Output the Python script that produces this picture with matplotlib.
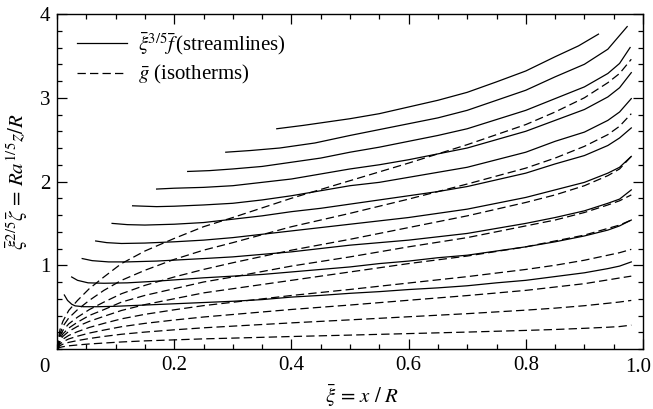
import matplotlib
matplotlib.use("Agg")
import matplotlib.pyplot as plt
from matplotlib.ticker import MultipleLocator

plt.rcParams['font.family'] = 'Liberation Serif'
plt.rcParams['mathtext.fontset'] = 'stix'
plt.rcParams['lines.scale_dashes'] = False

# STREAMLINES (solid)
s1_x = [0.375, 0.42, 0.46, 0.50, 0.55, 0.60, 0.65, 0.70, 0.75, 0.80, 0.85, 0.89, 0.924]
s1_y = [2.63, 2.67, 2.71, 2.75, 2.81, 2.89, 2.97, 3.065, 3.19, 3.32, 3.49, 3.62, 3.76]
s2_x = [0.288, 0.33, 0.38, 0.44, 0.50, 0.55, 0.60, 0.65, 0.70, 0.75, 0.80, 0.85, 0.90, 0.94, 0.973]
s2_y = [2.35, 2.37, 2.40, 2.46, 2.55, 2.62, 2.69, 2.76, 2.85, 2.97, 3.09, 3.25, 3.40, 3.58, 3.85]
s3_x = [0.223, 0.26, 0.30, 0.35, 0.40, 0.45, 0.50, 0.55, 0.60, 0.65, 0.70, 0.75, 0.80, 0.85, 0.90, 0.94, 0.96, 0.978]
s3_y = [2.12, 2.13, 2.15, 2.18, 2.23, 2.28, 2.35, 2.41, 2.48, 2.55, 2.63, 2.74, 2.85, 2.99, 3.13, 3.29, 3.41, 3.60]
s4_x = [0.170, 0.20, 0.25, 0.30, 0.35, 0.40, 0.45, 0.50, 0.55, 0.60, 0.65, 0.70, 0.75, 0.80, 0.85, 0.90, 0.94, 0.96, 0.98]
s4_y = [1.91, 1.92, 1.93, 1.95, 1.99, 2.03, 2.09, 2.15, 2.20, 2.26, 2.33, 2.40, 2.50, 2.60, 2.73, 2.86, 3.01, 3.12, 3.30]
s5_x = [0.129, 0.17, 0.20, 0.25, 0.30, 0.35, 0.40, 0.45, 0.50, 0.55, 0.60, 0.65, 0.70, 0.75, 0.80, 0.85, 0.90, 0.94, 0.96, 0.98]
s5_y = [1.71, 1.70, 1.705, 1.72, 1.74, 1.78, 1.83, 1.89, 1.95, 1.99, 2.05, 2.11, 2.17, 2.26, 2.35, 2.48, 2.59, 2.73, 2.83, 2.99]
s6_x = [0.094, 0.12, 0.15, 0.20, 0.25, 0.30, 0.35, 0.40, 0.45, 0.50, 0.55, 0.60, 0.65, 0.70, 0.75, 0.80, 0.85, 0.90, 0.94, 0.96, 0.98]
s6_y = [1.50, 1.485, 1.48, 1.49, 1.51, 1.55, 1.59, 1.64, 1.68, 1.73, 1.78, 1.83, 1.88, 1.94, 2.02, 2.10, 2.21, 2.31, 2.43, 2.52, 2.64]
s7_x = [0.066, 0.085, 0.11, 0.15, 0.20, 0.25, 0.30, 0.35, 0.40, 0.45, 0.50, 0.55, 0.60, 0.65, 0.70, 0.75, 0.80, 0.85, 0.90, 0.94, 0.96, 0.98]
s7_y = [1.29, 1.27, 1.26, 1.265, 1.28, 1.30, 1.33, 1.37, 1.41, 1.45, 1.49, 1.53, 1.57, 1.62, 1.67, 1.74, 1.81, 1.90, 1.99, 2.10, 2.17, 2.30]
s8_x = [0.043, 0.06, 0.088, 0.12, 0.17, 0.25, 0.30, 0.35, 0.40, 0.45, 0.50, 0.55, 0.60, 0.65, 0.70, 0.75, 0.80, 0.85, 0.90, 0.94, 0.96, 0.98]
s8_y = [1.08, 1.055, 1.04, 1.04, 1.05, 1.08, 1.10, 1.13, 1.16, 1.20, 1.24, 1.27, 1.30, 1.34, 1.38, 1.44, 1.50, 1.57, 1.65, 1.74, 1.79, 1.90]
s9_x = [0.025, 0.035, 0.053, 0.08, 0.12, 0.17, 0.25, 0.30, 0.35, 0.40, 0.45, 0.50, 0.55, 0.60, 0.65, 0.70, 0.75, 0.80, 0.85, 0.90, 0.94, 0.96, 0.98]
s9_y = [0.86, 0.82, 0.79, 0.785, 0.79, 0.81, 0.85, 0.87, 0.89, 0.92, 0.95, 0.98, 1.02, 1.05, 1.09, 1.12, 1.17, 1.22, 1.28, 1.35, 1.42, 1.47, 1.54]
s10_x = [0.0125, 0.018, 0.025, 0.031, 0.045, 0.07, 0.10, 0.15, 0.20, 0.25, 0.30, 0.35, 0.40, 0.45, 0.50, 0.55, 0.60, 0.65, 0.70, 0.75, 0.80, 0.85, 0.90, 0.94, 0.96, 0.98]
s10_y = [0.645, 0.58, 0.535, 0.515, 0.505, 0.505, 0.51, 0.525, 0.54, 0.555, 0.57, 0.59, 0.62, 0.64, 0.665, 0.685, 0.71, 0.73, 0.755, 0.79, 0.82, 0.865, 0.91, 0.96, 0.99, 1.04]

# ISOTHERMS (dashed), all on the same x points
iso_x = [0, 0.005, 0.01, 0.02, 0.035, 0.055, 0.08, 0.11, 0.15, 0.20, 0.25, 0.30, 0.40, 0.50, 0.60, 0.70, 0.80, 0.85, 0.90, 0.94, 0.96, 0.98]
iso1_y = [0, 0.23, 0.33, 0.46, 0.58, 0.72, 0.86, 1.02, 1.17, 1.32, 1.46, 1.57, 1.80, 2.01, 2.22, 2.44, 2.68, 2.83, 3.00, 3.18, 3.29, 3.46]
iso2_y = [0, 0.18, 0.27, 0.37, 0.47, 0.58, 0.70, 0.82, 0.94, 1.07, 1.18, 1.27, 1.46, 1.62, 1.79, 1.97, 2.16, 2.28, 2.42, 2.56, 2.66, 2.81]
iso3_y = [0, 0.15, 0.22, 0.30, 0.38, 0.47, 0.56, 0.66, 0.76, 0.86, 0.95, 1.03, 1.18, 1.31, 1.45, 1.59, 1.75, 1.84, 1.95, 2.07, 2.15, 2.30]
iso4_y = [0, 0.125, 0.18, 0.25, 0.32, 0.40, 0.47, 0.56, 0.64, 0.72, 0.80, 0.86, 0.99, 1.10, 1.22, 1.33, 1.47, 1.54, 1.63, 1.72, 1.77, 1.84]
iso5_y = [0, 0.104, 0.15, 0.21, 0.27, 0.33, 0.39, 0.46, 0.53, 0.60, 0.67, 0.72, 0.82, 0.92, 1.02, 1.11, 1.22, 1.29, 1.36, 1.44, 1.48, 1.54]
iso6_y = [0, 0.081, 0.117, 0.162, 0.207, 0.257, 0.306, 0.36, 0.414, 0.468, 0.518, 0.558, 0.639, 0.711, 0.788, 0.864, 0.95, 1.0, 1.06, 1.12, 1.15, 1.19]
iso7_y = [0, 0.06, 0.086, 0.12, 0.153, 0.19, 0.226, 0.266, 0.306, 0.346, 0.382, 0.412, 0.472, 0.525, 0.582, 0.638, 0.70, 0.74, 0.78, 0.825, 0.848, 0.87]
iso8_y = [0, 0.04, 0.057, 0.079, 0.101, 0.125, 0.15, 0.176, 0.202, 0.229, 0.253, 0.273, 0.312, 0.348, 0.385, 0.422, 0.464, 0.488, 0.517, 0.546, 0.561, 0.58]
iso9_y = [0, 0.019, 0.027, 0.038, 0.048, 0.06, 0.071, 0.084, 0.097, 0.109, 0.121, 0.13, 0.149, 0.166, 0.184, 0.202, 0.222, 0.233, 0.247, 0.26, 0.268, 0.285]

x_ticks = [0.2, 0.4, 0.6, 0.8, 1.0]
x_tick_labels = ['0.2', '0.4', '0.6', '0.8', '']
y_ticks = [1, 2, 3, 4]

streamlines = [(s1_x, s1_y), (s2_x, s2_y), (s3_x, s3_y), (s4_x, s4_y), (s5_x, s5_y),
               (s6_x, s6_y), (s7_x, s7_y), (s8_x, s8_y), (s9_x, s9_y), (s10_x, s10_y)]
isotherms = [iso1_y, iso2_y, iso3_y, iso4_y, iso5_y, iso6_y, iso7_y, iso8_y, iso9_y]

FS = 15
fig = plt.figure(figsize=(6.53, 4.09), dpi=100)
ax = fig.add_axes([0.0873, 0.1467, 0.8974, 0.819])

for i, (sx, sy) in enumerate(streamlines):
    ax.plot(sx, sy, color='black', lw=0.9,
            label=r'$\bar{\xi}^{3/5}\bar{f}\,$(streamlines)' if i == 0 else None)
for i, iy in enumerate(isotherms):
    ax.plot(iso_x, iy, color='black', lw=0.9, dashes=(6, 3),
            label=r'$\bar{g}$ (isotherms)' if i == 0 else None)

ax.set_xlim(0, 1.0)
ax.set_ylim(0, 4)
ax.set_xticks(x_ticks)
ax.set_xticklabels(x_tick_labels)
ax.set_yticks(y_ticks)
ax.xaxis.set_minor_locator(MultipleLocator(0.05))
ax.yaxis.set_minor_locator(MultipleLocator(0.2))
ax.tick_params(which='both', direction='in', top=True, right=True, labelsize=FS, width=0.9)
ax.tick_params(which='major', length=7)
ax.tick_params(which='minor', length=3.6)
ax.tick_params(axis='x', pad=5)
ax.tick_params(axis='y', pad=5)
for sp in ax.spines.values():
    sp.set_linewidth(1.0)

# shared zero at the corner, and 1.0 pulled in so it stays on the page
ax.text(-0.022, -0.054, '0', transform=ax.transAxes, ha='center', va='center', fontsize=FS)
ax.text(1.0135, -0.054, '1.0', transform=ax.transAxes, ha='right', va='center', fontsize=FS)

ax.set_xlabel(r'$\bar{\xi}\, =\, x\ /\ R$', fontsize=FS)
ax.set_ylabel(r'$\bar{\xi}^{2/5}\bar{\zeta}\, =\, Ra^{1/5}z/R$', fontsize=FS, labelpad=7)
ax.xaxis.set_label_coords(0.52, -0.098)

ax.legend(loc='upper left', bbox_to_anchor=(0.01, 0.995), frameon=False, fontsize=FS,
          handlelength=2.4, handletextpad=0.5, labelspacing=0.3, borderaxespad=0.3)

plt.savefig('out.png', dpi=100)
